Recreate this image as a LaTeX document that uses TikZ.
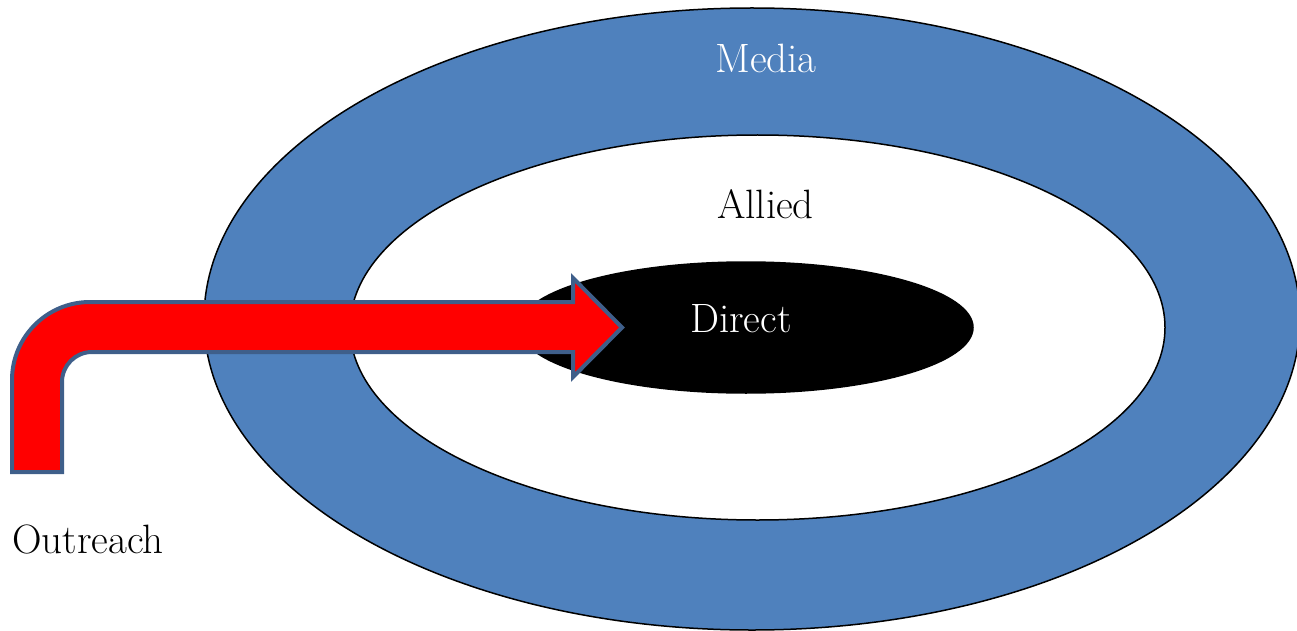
\documentclass[tikz,border=0pt]{standalone}
\usetikzlibrary{shapes.geometric}
\definecolor{mediablue}{HTML}{4F81BD}
\definecolor{arrowedge}{HTML}{3F5F8A}
\definecolor{arrowred}{HTML}{FF0000}
\tikzset{
  ring/.style={ellipse, draw=black, line width=1.5pt, inner sep=0pt},
  lbl/.style={inner sep=0pt, anchor=base, font=\fontsize{41}{44}\selectfont},
}
\begin{document}
\begin{tikzpicture}[x=1pt,y=-1pt]
\useasboundingbox (0,0) rectangle (1297,631);
\node[ring, fill=mediablue, minimum width=1096pt, minimum height=622pt] (media) at (752,319) {};
\node[ring, fill=white, minimum width=815pt, minimum height=385pt] (allied) at (757.5,327.5) {};
\node[ring, fill=black, minimum width=454pt, minimum height=131pt] (direct) at (746,327.5) {};
\node[lbl, text=white] (tmedia) at (766,73) {Media};
\node[lbl, text=black] (tallied) at (765.5,218) {Allied};
\node[lbl, text=white] (tdirect) at (741,332) {Direct};
\node[lbl, text=black, anchor=base west] (toutreach) at (12,553) {Outreach};
\coordinate (tip) at (622,327.5);
\draw[fill=arrowred, draw=arrowedge, line width=4pt, line join=miter]
  (12,472) -- (12,380)
  .. controls (12,336.9) and (46.9,302) .. (90,302)
  -- (573,302) -- (573,278) -- (tip) -- (573,377) -- (573,352)
  -- (92,352)
  .. controls (75.4,352) and (62,365.4) .. (62,382)
  -- (62,472) -- cycle;
\end{tikzpicture}
\end{document}
